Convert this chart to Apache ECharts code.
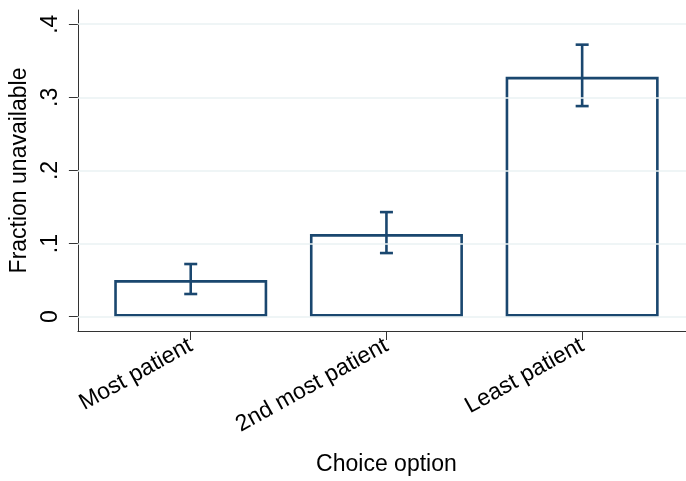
<!DOCTYPE html>
<html>
<head>
<meta charset="utf-8">
<script src="https://cdn.jsdelivr.net/npm/echarts@6/dist/echarts.min.js"></script>
<style>html,body{margin:0;padding:0;background:#fff}#c{width:686px;height:481px}</style>
</head>
<body>
<div id="c"></div>
<script>
var categories = ['Most patient', '2nd most patient', 'Least patient'];
var fractionUnavailable = [0.050, 0.113, 0.328];
var ciLower = [0.031, 0.087, 0.288];
var ciUpper = [0.072, 0.143, 0.372];
var yTicks = [0, 0.1, 0.2, 0.3, 0.4];
var yTickLabels = ['0', '.1', '.2', '.3', '.4'];

var navy = '#1a476f';
var font = 'Liberation Sans, Arial, Helvetica, sans-serif';
var chart = echarts.init(document.getElementById('c'));

var barData = categories.map(function (c, i) { return [i, fractionUnavailable[i]]; });
var errData = categories.map(function (c, i) { return [i, ciLower[i], ciUpper[i]]; });

chart.setOption({
  animation: false,
  backgroundColor: '#fff',
  grid: { left: 77, right: 0, top: 10, bottom: 147 },
  xAxis: {
    type: 'value',
    min: -0.5765, max: 2.5306,
    splitLine: { show: false },
    axisLine: { show: true, onZero: false, lineStyle: { color: '#333', width: 1 } },
    axisTick: { show: true, length: 9, customValues: [0, 1, 2], lineStyle: { color: '#333' } },
    axisLabel: {
      customValues: [0, 1, 2], rotate: 29, margin: 13,
      fontFamily: font, fontSize: 23, color: '#000',
      formatter: function (v) { return categories[Math.round(v)]; }
    },
    name: 'Choice option', nameLocation: 'middle', nameGap: 122,
    nameTextStyle: { fontFamily: font, fontSize: 23, color: '#000', padding: [0, 0, 0, 9] }
  },
  yAxis: {
    type: 'value',
    min: -0.0196, max: 0.4194,
    splitLine: { show: false },
    axisLine: { show: true, onZero: false, lineStyle: { color: '#333', width: 1 } },
    axisTick: { show: true, length: 9, customValues: yTicks, lineStyle: { color: '#333' } },
    axisLabel: {
      customValues: yTicks, rotate: 90, margin: 16,
      fontFamily: font, fontSize: 23, color: '#000',
      formatter: function (v) {
        for (var i = 0; i < yTicks.length; i++) if (Math.abs(yTicks[i] - v) < 1e-9) return yTickLabels[i];
        return '';
      }
    },
    name: 'Fraction unavailable', nameLocation: 'middle', nameGap: 43, nameRotate: 90,
    nameTextStyle: { fontFamily: font, fontSize: 23, color: '#000' }
  },
  series: [
    {
      type: 'line', data: [], z: 0, silent: true,
      markLine: {
        silent: true, symbol: 'none', animation: false,
        label: { show: false },
        lineStyle: { color: '#eaf2f3', width: 1.5, type: 'solid' },
        data: yTicks.map(function (t) { return { yAxis: t }; })
      }
    },
    {
      type: 'bar', data: barData, barWidth: 153, z: 2,
      itemStyle: { color: '#fff', borderColor: navy, borderWidth: 2.6 }
    },
    {
      type: 'custom', data: errData, z: 3,
      renderItem: function (params, api) {
        var x = api.value(0);
        var lo = api.coord([x, api.value(1)]);
        var hi = api.coord([x, api.value(2)]);
        var hw = 6.5;
        var st = { stroke: navy, lineWidth: 2.6 };
        return {
          type: 'group',
          children: [
            { type: 'line', shape: { x1: lo[0], y1: lo[1], x2: hi[0], y2: hi[1] }, style: st },
            { type: 'line', shape: { x1: lo[0] - hw, y1: lo[1], x2: lo[0] + hw, y2: lo[1] }, style: st },
            { type: 'line', shape: { x1: hi[0] - hw, y1: hi[1], x2: hi[0] + hw, y2: hi[1] }, style: st }
          ]
        };
      }
    }
  ]
});
</script>
</body>
</html>
